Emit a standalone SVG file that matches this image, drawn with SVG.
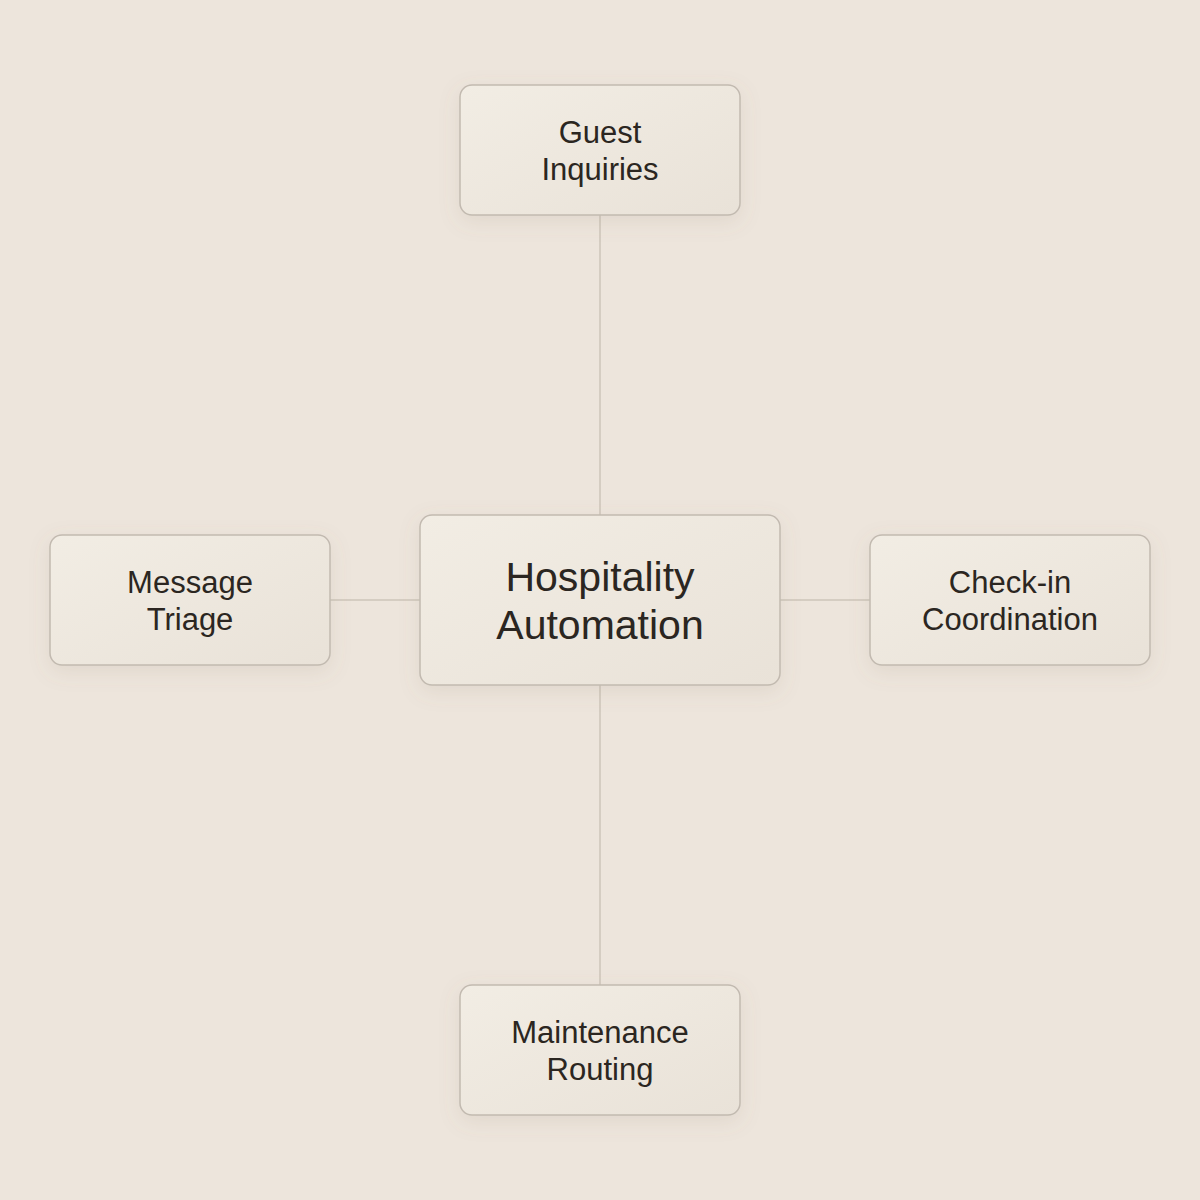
<svg xmlns="http://www.w3.org/2000/svg" width="1200" height="1200" viewBox="0 0 1200 1200">
<defs>
<linearGradient id="nodeFill" x1="0" y1="0" x2="1" y2="1">
<stop offset="0" stop-color="#F2EDE4"/>
<stop offset="1" stop-color="#E9E2D8"/>
</linearGradient>
<filter id="shadow" x="-25%" y="-35%" width="150%" height="180%">
<feDropShadow dx="0" dy="6" stdDeviation="10" flood-color="#8A7A66" flood-opacity="0.13"/>
</filter>
<style>
.node rect{fill:url(#nodeFill);stroke:#C2BAB0;stroke-width:1.5;filter:url(#shadow)}
.node text{font-family:"Liberation Sans","Inter",sans-serif;fill:#2B2621;text-anchor:middle}
.small{font-size:31px}
.big{font-size:41px}
.conn line{stroke:#CCC4BA;stroke-width:1.5}
</style>
</defs>
<rect width="1200" height="1200" fill="#EDE5DC"/>
<g id="connectors" class="conn">
<line x1="600" y1="215" x2="600" y2="515"/>
<line x1="600" y1="685" x2="600" y2="985"/>
<line x1="330" y1="600" x2="420" y2="600"/>
<line x1="780" y1="600" x2="870" y2="600"/>
</g>
<g id="node-center" class="node">
<rect x="420" y="515" width="360" height="170" rx="12"/>
<text class="big" x="600" y="591">Hospitality</text>
<text class="big" x="600" y="639">Automation</text>
</g>
<g id="node-guest" class="node">
<rect x="460" y="85" width="280" height="130" rx="12"/>
<text class="small" x="600" y="143">Guest</text>
<text class="small" x="600" y="180">Inquiries</text>
</g>
<g id="node-message" class="node">
<rect x="50" y="535" width="280" height="130" rx="12"/>
<text class="small" x="190" y="593">Message</text>
<text class="small" x="190" y="630">Triage</text>
</g>
<g id="node-checkin" class="node">
<rect x="870" y="535" width="280" height="130" rx="12"/>
<text class="small" x="1010" y="593">Check-in</text>
<text class="small" x="1010" y="630">Coordination</text>
</g>
<g id="node-maintenance" class="node">
<rect x="460" y="985" width="280" height="130" rx="12"/>
<text class="small" x="600" y="1043">Maintenance</text>
<text class="small" x="600" y="1080">Routing</text>
</g>
</svg>
